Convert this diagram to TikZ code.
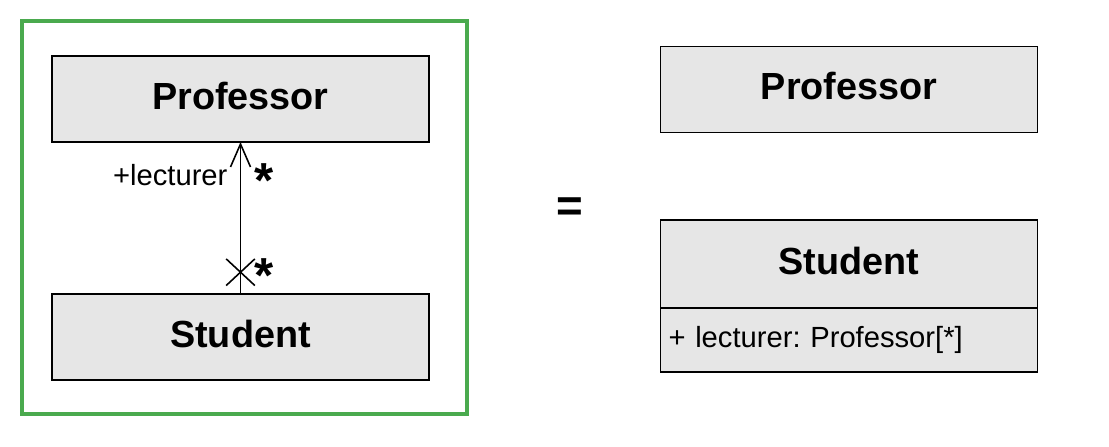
\documentclass[tikz,border=0pt]{standalone}
\usepackage{fontspec}
\setmainfont{Liberation Sans}
\frenchspacing
\usetikzlibrary{arrows.meta,positioning,shapes.misc}
\definecolor{clsgray}{HTML}{E6E6E6}
\definecolor{framegreen}{HTML}{4AAA4E}

\begin{document}
\begin{tikzpicture}[
  cls/.style = {draw, fill=clsgray, line width=1.1pt, inner sep=0pt, outer sep=0pt,
    minimum width=7.54cm, minimum height=1.72cm, text depth=0.14cm,
    font=\fontsize{21.5}{24}\selectfont\bfseries},
  attr/.style = {draw, fill=clsgray, line width=1.1pt, inner xsep=0.16cm, outer sep=0pt,
    text width=7.22cm, minimum height=1.28cm, align=left,
    font=\fontsize{16.6}{20}\selectfont},
  assoc/.style = {-{Straight Barb[length=4.6mm, width=4mm]}, line width=0.9pt},
  lbl/.style = {font=\fontsize{16.6}{20}\selectfont, inner sep=0pt},
  mult/.style = {font=\fontsize{28}{30}\selectfont\bfseries, inner sep=0pt, anchor=base west},
  nav/.style = {draw, cross out, line width=0.9pt, inner sep=0pt,
    minimum width=0.54cm, minimum height=0.5cm},
]
\useasboundingbox (0,0) rectangle (22.18,8.92);

% left: association with navigable end
\draw[framegreen, line width=2pt] (0.44,0.64) rectangle (9.34,8.50);
\node[cls] (prof) at (4.81,6.94) {Professor};
\node[cls] (stu) at (4.81,2.18) {Student};
\node[nav, above=0.17cm of stu.north] (cross) {};
\draw[assoc] (stu.north) -- (prof.south)
  node[lbl, pos=0.78, left=7pt] (role) {+lecturer};
\node[mult] (mtop) at (5.09,4.96) {*};
\node[mult] (mbot) at (5.09,3.06) {*};

\node[font=\fontsize{26}{30}\selectfont\bfseries] (eq) at (11.40,4.72) {=};

% right: same thing as an attribute
\node[cls] (prof2) at (16.98,7.13) {Professor};
\node[cls, minimum height=1.76cm] (stu2) at (16.98,3.64) {Student};
\node[attr, below=0pt of stu2] (stu2attr) {+ lecturer: Professor[*]};
\end{tikzpicture}
\end{document}
